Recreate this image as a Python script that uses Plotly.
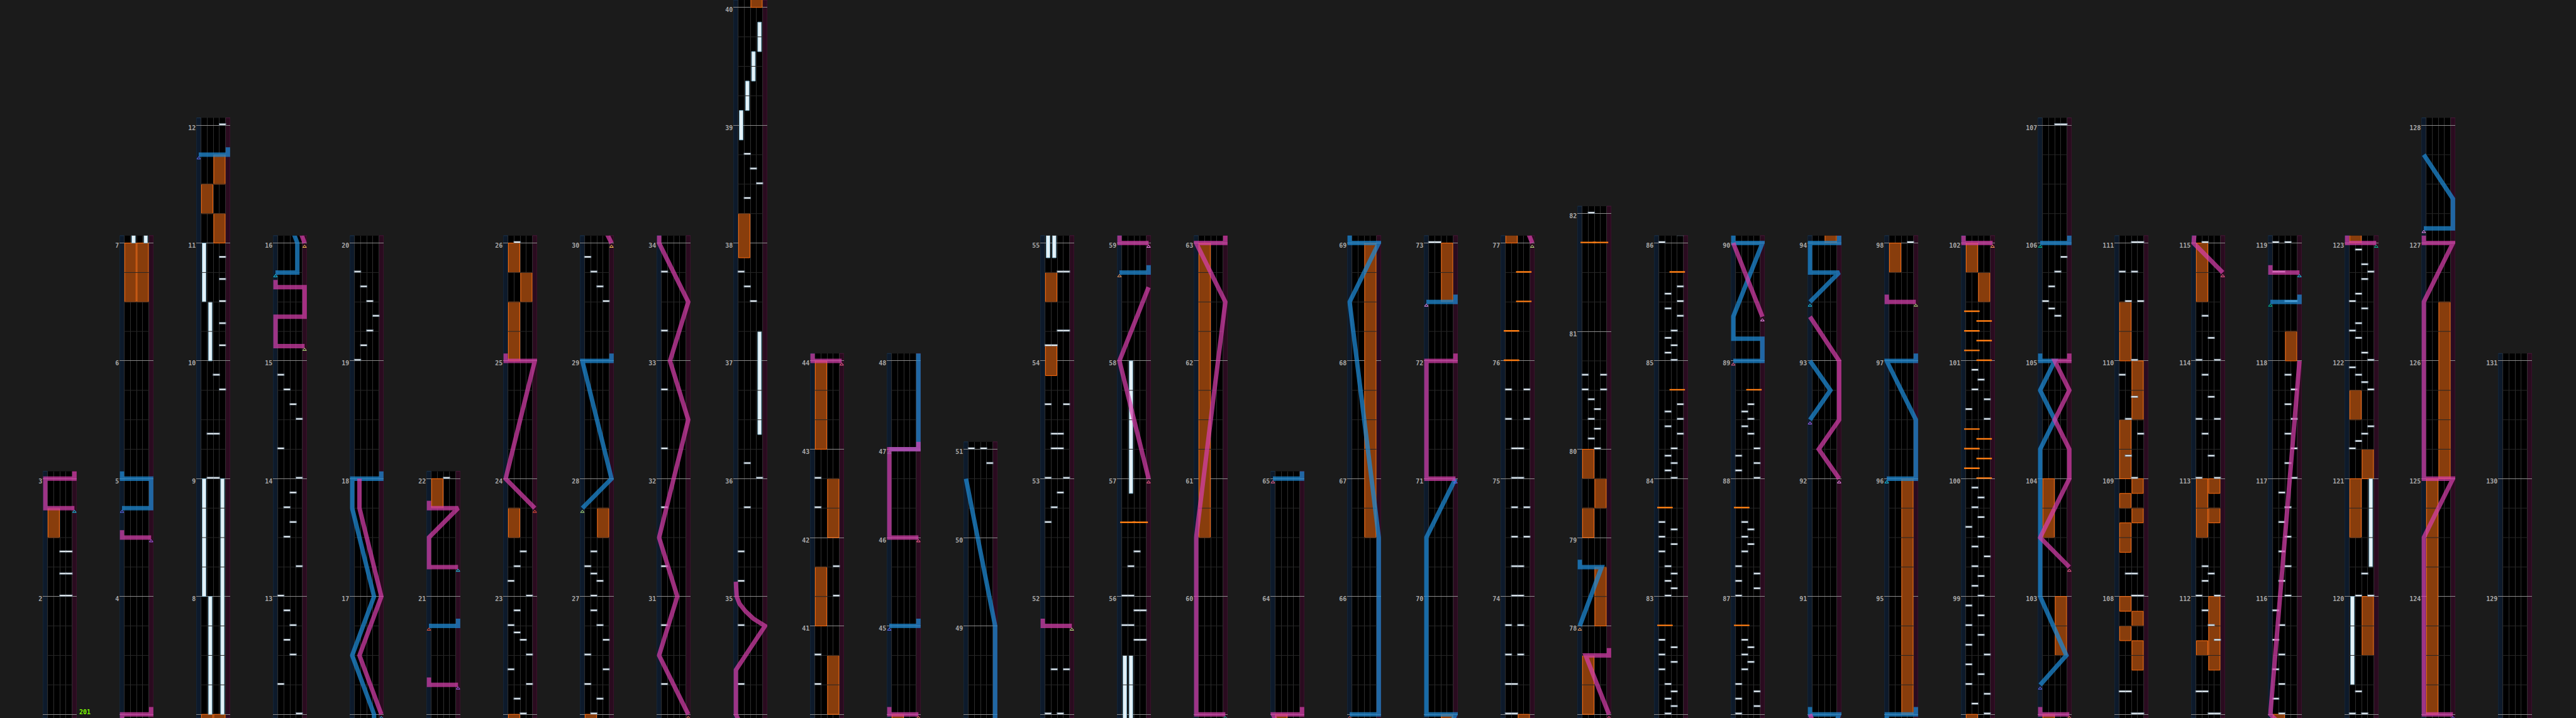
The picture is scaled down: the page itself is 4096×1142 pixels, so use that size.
import math
import plotly.graph_objects as go

# ---------------- chart data ----------------
three_four_measures = list(range(40, 51)) + [77, 78, 79]
last_measure = 131
column_starts = [1, 3, 7, 12, 16, 20, 22, 26, 30, 34, 40, 44, 48, 51, 55, 59, 63, 65, 69,
                 73, 77, 82, 86, 90, 94, 98, 102, 107, 111, 115, 119, 123, 128]
column_last_end = 131
bpm_text = "201"
bpm_measure = 1

# BT chips: (position in measures, lanes)
bt_chips = [
    (2.0, "CD"), (2.1875, "CD"), (2.375, "CD"),
    (9.0, "BC"), (9.375, "BC"), (9.75, "D"), (9.875, "C"),
    (10.125, "D"), (10.3125, "D"), (10.5, "D"), (10.6875, "D"), (10.875, "D"), (12.0, "D"),
    (12.25, "A"), (12.5, "C"), (12.625, "B"), (12.75, "C"), (12.875, "B"),
    (13.0, "A"), (13.25, "D"), (13.5, "B"), (13.625, "C"), (13.75, "B"), (13.875, "C"),
    (14.0, "D"), (14.25, "A"), (14.5, "D"), (14.625, "C"), (14.75, "B"), (14.875, "A"),
    (19.0, "A"), (19.125, "B"), (19.25, "C"), (19.375, "D"), (19.5, "C"), (19.625, "B"), (19.75, "A"),
    (22.0, "C"),
    (22.125, "B"), (22.25, "D"), (22.375, "A"), (22.5, "D"), (22.625, "C"), (22.6875, "B"),
    (22.75, "A"), (22.875, "B"), (23.0, "D"), (23.125, "A"), (23.25, "B"), (23.375, "C"),
    (26.0, "B"),
    (26.125, "C"), (26.25, "A"), (26.375, "D"), (26.5, "A"), (26.625, "D"), (26.75, "C"), (26.875, "B"),
    (27.0, "B"), (27.125, "C"), (27.1875, "B"), (27.25, "A"), (27.375, "B"),
    (29.5, "D"), (29.625, "C"), (29.75, "B"), (29.875, "A"),
    (30.25, "A"), (30.75, "A"), (31.25, "A"), (31.75, "A"), (32.25, "A"), (32.75, "A"), (33.25, "A"), (33.75, "A"),
    (34.25, "A"), (34.75, "A"), (35.125, "A"), (35.375, "A"), (35.75, "B"), (36.0, "D"), (36.125, "B"),
    (37.5, "C"), (37.625, "B"), (37.75, "A"),
    (38.375, "B"), (38.5, "D"), (38.625, "C"), (38.75, "B"),
    (40.3333, "A"), (40.6667, "A"), (41.3333, "D"), (41.6667, "D"), (42.3333, "A"), (42.6667, "A"),
    (50.8333, "D"), (51.0, "AC"),
    (51.375, "BD"), (52.625, "A"), (52.75, "B"), (52.875, "C"), (53.0, "AD"), (53.25, "BC"),
    (53.375, "BC"), (53.625, "AD"), (54.125, "AB"), (54.25, "CD"), (54.75, "CD"),
    (55.625, "CD"), (55.75, "AB"), (55.875, "CD"), (56.0, "AB"), (56.25, "B"), (56.375, "C"),
    (73.0, "AB"),
    (73.25, "AB"), (73.5, "AC"), (73.75, "AC"), (74.0, "BC"), (74.25, "BC"), (74.5, "BD"), (74.75, "BD"),
    (75.0, "BC"), (75.25, "BC"), (75.5, "AD"), (75.75, "AD"),
    (80.0, "C"), (80.0833, "B"), (80.1667, "C"), (80.25, "B"), (80.3333, "C"), (80.4167, "B"),
    (80.5, "AD"), (80.625, "AD"), (82.0, "B"),
    (82.0625, "C"), (82.125, "B"), (82.1875, "C"), (82.25, "B"), (82.375, "A"), (82.4375, "C"),
    (82.5, "A"), (82.5625, "C"), (82.625, "A"),
    (83.0, "B"), (83.0625, "C"), (83.125, "B"), (83.1875, "C"), (83.25, "B"), (83.375, "A"),
    (83.4375, "C"), (83.5, "A"), (83.5625, "C"), (83.625, "A"),
    (84.0, "C"), (84.0625, "B"), (84.125, "C"), (84.1875, "B"), (84.25, "C"), (84.375, "D"),
    (84.4375, "B"), (84.5, "D"), (84.5625, "B"), (84.625, "D"),
    (85.0, "C"), (85.0625, "B"), (85.125, "C"), (85.1875, "B"), (85.25, "C"), (85.375, "D"),
    (85.4375, "B"), (85.5, "D"), (85.5625, "B"), (85.625, "D"),
    (86.0, "A"), (86.0625, "D"), (86.125, "A"), (86.1875, "D"), (86.25, "A"), (86.375, "B"),
    (86.4375, "C"), (86.5, "B"), (86.5625, "C"), (86.625, "B"),
    (87.0, "A"), (87.0625, "D"), (87.125, "A"), (87.1875, "D"), (87.25, "A"), (87.375, "B"),
    (87.4375, "C"), (87.5, "B"), (87.5625, "C"), (87.625, "B"),
    (88.0, "D"), (88.0625, "A"), (88.125, "D"), (88.1875, "A"), (88.25, "D"), (88.375, "C"),
    (88.4375, "B"), (88.5, "C"), (88.5625, "B"), (88.625, "C"),
    (98.0, "D"), (98.0833, "B"), (98.1667, "D"), (98.25, "A"), (98.3333, "C"), (98.4167, "A"),
    (98.5, "D"), (98.5833, "A"), (98.6667, "C"), (98.75, "A"), (98.8333, "C"), (98.9167, "A"),
    (99.0, "C"), (99.0833, "B"), (99.1667, "C"), (99.25, "B"), (99.3333, "D"), (99.4167, "B"),
    (99.5, "C"), (99.5833, "A"), (99.6667, "C"), (99.75, "B"), (99.8333, "C"), (99.9167, "B"),
    (100.5, "D"), (100.5833, "A"), (100.6667, "D"), (100.75, "B"), (100.8333, "C"), (100.9167, "B"),
    (105.375, "C"), (105.4375, "B"), (105.5, "A"), (105.625, "B"), (105.75, "C"), (105.875, "D"),
    (107.0, "CD"), (107.1875, "AB"), (108.0, "CD"), (108.1875, "BC"),
    (109.0, "C"), (109.1875, "B"), (109.375, "D"), (109.5, "B"), (109.6875, "C"), (109.875, "A"),
    (110.0, "C"), (110.5, "BD"), (110.75, "AC"), (111.0, "CD"),
    (111.1875, "AB"), (111.625, "D"), (111.75, "C"), (111.875, "B"), (112.0, "AD"),
    (112.125, "B"), (112.1875, "C"), (112.25, "B"), (113.0, "AD"),
    (113.1875, "C"), (113.375, "B"), (113.5, "AD"), (113.6875, "C"), (113.875, "B"), (114.0, "AD"),
    (114.1875, "C"), (114.375, "B"), (115.0, "B"),
    (115.125, "A"), (115.25, "B"), (115.375, "A"), (115.5, "B"), (115.625, "A"), (115.75, "B"),
    (115.875, "A"), (116.0, "C"), (116.125, "B"), (116.25, "C"), (116.375, "B"), (116.5, "C"),
    (116.625, "B"), (116.75, "C"), (116.875, "B"), (117.0, "D"), (117.125, "C"), (117.25, "D"),
    (117.375, "C"), (117.5, "D"), (117.625, "C"), (117.75, "D"), (117.875, "C"),
    (118.5, "CD"), (118.75, "AB"), (119.0, "AC"),
    (119.1875, "B"), (120.0, "BD"), (120.1875, "C"),
    (121.25, "A"), (121.3125, "B"), (121.375, "C"), (121.4375, "D"),
    (121.75, "D"), (121.8125, "C"), (121.875, "B"), (121.9375, "A"),
    (122.0, "D"), (122.0625, "C"), (122.1875, "B"), (122.25, "A"), (122.3125, "B"), (122.4375, "C"),
    (122.5, "A"), (122.5625, "B"), (122.6875, "C"), (122.75, "D"), (122.8125, "C"), (122.9375, "B"),
]

# FX chips: (position, FX sides)
fx_chips = [
    (56.625, "LR"), (76.0, "L"), (76.25, "L"), (76.5, "R"), (76.75, "R"), (81.75, "LR"),
    (82.75, "L"), (83.75, "L"), (84.75, "R"), (85.75, "R"), (86.75, "L"), (87.75, "L"), (88.75, "R"),
    (100.0, "R"), (100.0833, "L"), (100.1667, "R"), (100.25, "L"), (100.3333, "R"), (100.4167, "L"),
    (101.0, "R"), (101.0833, "L"), (101.1667, "R"), (101.25, "L"), (101.3333, "R"), (101.4167, "L"),
]

# BT holds: (start, end, lane)
bt_holds = [
    (7.0, 8.0, "B"), (7.0, 9.0, "D"), (8.0, 9.0, "A"), (10.0, 10.5, "B"), (10.5, 11.0, "A"),
    (36.375, 37.25, "D"), (38.875, 39.125, "A"), (39.125, 39.375, "B"), (39.375, 39.625, "C"),
    (39.625, 39.875, "D"), (54.875, 55.5, "A"), (54.875, 55.5, "B"), (56.875, 58.0, "B"),
    (119.25, 120.0, "A"), (120.25, 121.0, "D"),
]

# FX holds: (start, end, side)
fx_holds = [
    (2.5, 2.75, "L"), (6.5, 7.0, "L"), (6.5, 7.0, "R"), (11.0, 11.25, "R"), (11.25, 11.5, "L"),
    (11.5, 11.75, "R"), (21.75, 22.0, "L"), (23.5, 23.75, "L"), (25.0, 25.5, "L"), (25.5, 25.75, "R"),
    (25.75, 26.0, "L"), (27.5, 27.75, "R"), (37.875, 38.25, "L"), (40.0, 40.6667, "R"),
    (41.0, 41.6667, "L"), (42.0, 42.6667, "R"), (43.0, 44.0, "L"), (53.875, 54.125, "L"),
    (54.5, 54.75, "L"), (60.5, 63.0, "L"), (66.5, 69.0, "R"), (72.5, 73.0, "R"),
    (77.0, 77.6667, "L"), (78.0, 78.6667, "R"), (79.0, 79.3333, "L"), (79.3333, 79.6667, "R"),
    (79.6667, 80.0, "L"), (94.0, 96.0, "R"), (97.75, 98.0, "L"), (101.5, 101.75, "R"),
    (101.75, 102.0, "L"), (102.5, 103.0, "R"), (103.5, 104.0, "L"),
    (107.375, 107.625, "R"), (107.625, 107.75, "L"), (107.75, 107.875, "R"), (107.875, 108.0, "L"),
    (108.375, 108.625, "L"), (108.625, 108.75, "R"), (108.75, 108.875, "L"), (108.875, 109.0, "R"),
    (109.0, 109.5, "L"), (109.5, 110.0, "R"), (110.0, 110.5, "L"),
    (111.375, 112.0, "R"), (111.5, 111.625, "L"), (112.5, 113.0, "L"), (112.625, 112.75, "R"),
    (112.875, 113.0, "R"), (114.5, 115.0, "L"), (118.0, 118.25, "R"), (119.5, 120.0, "R"),
    (120.5, 121.0, "L"), (121.0, 121.25, "R"), (121.5, 121.75, "L"), (123.0, 125.0, "L"),
    (125.0, 126.5, "R"),
]

# Lasers: lists of (position, lateral 0..1)
laser_left = [
    [(4.75, 0), (4.75, 1), (5.0, 1), (5.0, 0), (5.0625, 0)],
    [(11.75, 0), (11.75, 1), (11.8125, 1)],
    [(15.75, 0), (15.75, 0.75), (16.0, 0.75), (16.5, 0), (17.0, 0.75), (17.75, 0), (18.0, 0), (18.0, 1), (18.0625, 1)],
    [(20.75, 0), (20.75, 1), (20.8125, 1)],
    [(27.75, 0), (28.0, 1), (29.0, 0), (29.0, 1), (29.0625, 1)],
    [(45.0, 0), (45.0, 1), (45.0833, 1)],
    [(47.0, 0), (47.0, 1), (49.0, 1), (50.6667, 0)],
    [(58.75, 0), (58.75, 1), (58.8125, 1)],
    [(65.0, 0), (65.0, 1), (66.5, 1), (68.5, 0), (69.0, 1), (69.0, 0), (70.5, 0), (71.0, 1)],
    [(72.5, 0), (72.5, 1), (72.5625, 1)],
    [(78.0, 0), (78.6667, 0.75), (78.6667, 0), (78.75, 0)],
    [(89.0, 0), (89.0, 1), (89.1875, 1), (89.1875, 0), (89.375, 0), (90.0, 1), (90.0, 0), (90.0625, 0)],
    [(92.5, 0), (92.75, 0.7), (93.0, 0)],
    [(93.5, 0), (93.75, 1), (93.75, 0), (94.0, 0), (94.0, 1), (94.0625, 1)],
    [(96.0, 0), (96.0, 1), (96.5, 1), (97.0, 0), (97.0, 1), (97.0625, 1)],
    [(102.25, 0), (102.5, 0.9), (103.0, 0), (104.25, 0), (104.5, 0.5), (104.75, 0), (105.0, 0.5), (105.0, 0), (105.0625, 0)],
    [(106.0, 0), (106.0, 1), (106.0625, 1)],
    [(118.5, 0), (118.5, 1), (118.5625, 1)],
    [(127.125, 0), (127.125, 1), (127.375, 1), (127.75, 0)],
]
laser_right = [
    [(2.75, 1), (2.75, 0), (3.0, 0), (3.0, 1), (3.0625, 1)],
    [(4.5, 1), (4.5, 0), (4.5625, 0)],
    [(15.125, 1), (15.125, 0), (15.375, 0), (15.375, 1), (15.625, 1), (15.625, 0), (15.6875, 0)],
    [(16.0, 1), (16.5, 0.25), (17.0, 1), (17.75, 0.25), (18.0, 0.25)],
    [(20.25, 1), (20.25, 0), (20.3125, 0)],
    [(21.25, 1), (21.25, 0), (21.5, 0), (21.75, 1), (21.75, 0), (21.8125, 0)],
    [(23.75, 1), (24.0, 0), (25.0, 1), (25.0, 0), (25.0625, 0)],
    [(30.0, 1), (30.5, 0), (31.0, 0.625), (31.5, 0), (32.5, 1), (33.0, 0.375), (33.5, 1), (34.0, 0),
     (34.375, 0), (34.75, 1), (34.8125, 0.6), (34.875, 0.33), (34.9375, 0.13), (35.0, 0.03), (35.125, 0)],
    [(44.0, 1), (44.0, 0), (44.0833, 0)],
    [(46.0, 1), (46.0, 0), (47.0, 0), (47.0, 1), (47.0833, 1)],
    [(51.75, 1), (51.75, 0), (51.8125, 0)],
    [(57.0, 1), (58.0, 0), (58.625, 1)],
    [(59.0, 1), (59.0, 0), (60.5, 0), (62.5, 1), (63.0, 0), (63.0, 1), (63.0625, 1)],
    [(71.0, 1), (71.0, 0), (72.0, 0), (72.0, 1), (72.0625, 1)],
    [(77.0, 1), (77.6667, 0.2), (77.6667, 1), (77.75, 1)],
    [(89.375, 1), (90.0, 0)],
    [(92.0, 1), (92.25, 0.3), (92.5, 1), (93.0, 1), (93.375, 0)],
    [(97.5, 1), (97.5, 0), (97.5625, 0)],
    [(102.0, 1), (102.0, 0), (102.0625, 0)],
    [(103.25, 1), (103.5, 0), (104.0, 1), (104.25, 1), (104.5, 0.5), (104.75, 1), (105.0, 0.5), (105.0, 1), (105.0625, 1)],
    [(114.75, 1), (115.0, 0), (118.0, 1)],
    [(118.75, 1), (118.75, 0), (118.8125, 0)],
    [(123.0, 1), (123.0, 0), (124.5, 0), (125.0, 1), (125.0, 0), (126.5, 0), (127.0, 1), (127.0, 0), (127.0625, 0)],
]

# ---------------- geometry & style ----------------
FIG_W, FIG_H = 4096, 1142
S = 0.976
PX_PER_BEAT = 192 * S / 4
COL_LEFT0, COL_STEP, COL_W = 70 * S, 125 * S, 55 * S
PAD_B = 6 * S / PX_PER_BEAT
PAD_T = 12 * S / PX_PER_BEAT
LANE = {"A": 0, "B": 1, "C": 2, "D": 3}
FXC = {"L": 1.0, "R": 3.0}
LASER_W = 7.2 * S

BG = "#1b1b1b"
BLUE = "rgba(30,136,210,0.74)"
PINK = "rgba(214,62,170,0.72)"
BLUE_MARK = "rgba(90,170,230,0.9)"
PINK_MARK = "rgba(230,110,190,0.9)"

beats_in = {m: (3 if m in three_four_measures else 4) for m in range(1, last_measure + 1)}
start_beat = {}
acc = 0
for m in range(1, last_measure + 1):
    start_beat[m] = acc
    acc += beats_in[m]


def beat(pos):
    m = int(math.floor(pos + 1e-6))
    m = min(m, last_measure)
    return start_beat[m] + (pos - m) * beats_in[m]


def lx(v):
    return -0.375 + 4.75 * v


column_ends = column_starts[1:] + [column_last_end]

fig = go.Figure()
axes = {}
shapes = []
annotations = []

for i, (ms, me) in enumerate(zip(column_starts, column_ends)):
    n = i + 1
    xn = "x" if n == 1 else f"x{n}"
    yn = "y" if n == 1 else f"y{n}"
    b0, b1 = start_beat[ms], start_beat[me]
    lo, hi = b0 - PAD_B, b1 + PAD_T
    left = COL_LEFT0 + i * COL_STEP
    axes["xaxis" if n == 1 else f"xaxis{n}"] = dict(
        domain=[left / FIG_W, (left + COL_W) / FIG_W], range=[-0.75, 4.75], anchor=yn,
        tickvals=[0, 1, 2, 3, 4], showticklabels=False, showgrid=True, gridcolor="#2e2e2e",
        gridwidth=1, zeroline=False, showline=False, ticks="", fixedrange=True)
    mlist = list(range(ms, me + 1))
    axes["yaxis" if n == 1 else f"yaxis{n}"] = dict(
        domain=[0, min(1.0, (hi - lo) * PX_PER_BEAT / FIG_H)], range=[lo, hi], anchor=xn,
        tickvals=[start_beat[m] for m in mlist], ticktext=[str(m) for m in mlist],
        showgrid=True, gridcolor="#8c8c8c", gridwidth=1, zeroline=False, showline=False,
        ticks="", ticklabelshift=4, ticklabelstandoff=0,
        tickfont=dict(family="DejaVu Sans Mono", size=10, color="#a8a8a8", weight="bold"),
        fixedrange=True)

    # side strips
    shapes.append(dict(type="rect", xref=xn, yref=f"{yn} domain", x0=-0.75, x1=0, y0=0, y1=1,
                       fillcolor="#0d1a2b", line=dict(color="#1b3550", width=1), layer="below"))
    shapes.append(dict(type="rect", xref=xn, yref=f"{yn} domain", x0=4, x1=4.75, y0=0, y1=1,
                       fillcolor="#2a0b1f", line=dict(color="#4a1739", width=1), layer="below"))

    # beat lines
    bx, by = [], []
    for b in range(b0 + 1, b1):
        if b in start_beat.values():
            continue
        bx += [0, 4, None]
        by += [b, b, None]
    if bx:
        fig.add_trace(go.Scatter(x=bx, y=by, mode="lines", line=dict(color="#272727", width=1),
                                 xaxis=xn, yaxis=yn, hoverinfo="skip", showlegend=False))

    # FX holds
    hx, hy, hb = [], [], []
    for s, e, side in fx_holds:
        bs, be = beat(s), beat(e)
        if be >= lo and bs <= hi:
            hx.append(FXC[side]); hb.append(bs); hy.append(be - bs)
    if hx:
        fig.add_trace(go.Bar(x=hx, y=hy, base=hb, width=1.84,
                             marker=dict(color="#883d0c", line=dict(color="#ff6d10", width=1)),
                             xaxis=xn, yaxis=yn, hoverinfo="skip", showlegend=False))

    # BT holds
    hx, hy, hb = [], [], []
    for s, e, ln in bt_holds:
        bs, be = beat(s), beat(e)
        if be >= lo and bs <= hi:
            hx.append(LANE[ln] + 0.5); hb.append(bs); hy.append(be - bs)
    if hx:
        fig.add_trace(go.Bar(x=hx, y=hy, base=hb, width=0.6,
                             marker=dict(color="#e4f1f7", line=dict(color="#7fb3cc", width=1)),
                             xaxis=xn, yaxis=yn, hoverinfo="skip", showlegend=False))

    # FX chips
    cx, cy = [], []
    for p, sides in fx_chips:
        bp = beat(p)
        if lo - 0.2 <= bp <= hi + 0.2:
            for sd in sides:
                cx.append(FXC[sd]); cy.append(bp + 0.02)
    if cx:
        fig.add_trace(go.Scatter(x=cx, y=cy, mode="markers",
                                 marker=dict(symbol="line-ew", size=18 * S, line=dict(color="#ff7d12", width=2.4)),
                                 xaxis=xn, yaxis=yn, hoverinfo="skip", showlegend=False))

    # BT chips
    cx, cy = [], []
    for p, lanes in bt_chips:
        bp = beat(p)
        if lo - 0.2 <= bp <= hi + 0.2:
            for ln in lanes:
                cx.append(LANE[ln] + 0.5); cy.append(bp + 0.03)
    if cx:
        fig.add_trace(go.Scatter(x=cx, y=cy, mode="markers",
                                 marker=dict(symbol="line-ew", size=8.5 * S, line=dict(color="#6c7c8a", width=3.4)),
                                 xaxis=xn, yaxis=yn, hoverinfo="skip", showlegend=False))
        fig.add_trace(go.Scatter(x=cx, y=cy, mode="markers",
                                 marker=dict(symbol="line-ew", size=7 * S, line=dict(color="#f2f8fb", width=1.6)),
                                 xaxis=xn, yaxis=yn, hoverinfo="skip", showlegend=False))

    # lasers
    for lasers, col, mcol in ((laser_left, BLUE, BLUE_MARK), (laser_right, PINK, PINK_MARK)):
        for pts in lasers:
            ys = [beat(p) for p, _ in pts]
            xs = [lx(v) for _, v in pts]
            if max(ys) >= lo - 0.05 and min(ys) <= hi + 0.05:
                fig.add_trace(go.Scatter(x=xs, y=ys, mode="lines",
                                         line=dict(color=col, width=LASER_W),
                                         xaxis=xn, yaxis=yn, hoverinfo="skip", showlegend=False))
            if lo <= ys[0] <= hi:
                fig.add_trace(go.Scatter(x=[xs[0]], y=[ys[0] - 0.12], mode="markers",
                                         marker=dict(symbol="triangle-up-open", size=5,
                                                     line=dict(color=mcol, width=1)),
                                         xaxis=xn, yaxis=yn, hoverinfo="skip", showlegend=False,
                                         cliponaxis=False))

# BPM label
annotations.append(dict(text=bpm_text, xref="x", yref="y", x=4.75, y=start_beat[bpm_measure],
                        xanchor="left", yanchor="middle", xshift=2, yshift=4, showarrow=False,
                        font=dict(family="DejaVu Sans Mono", size=10, color="#7cfc00", weight="bold")))

fig.update_layout(width=FIG_W, height=FIG_H, margin=dict(l=0, r=0, t=0, b=0),
                  paper_bgcolor=BG, plot_bgcolor="#000000", barmode="overlay",
                  showlegend=False, shapes=shapes, annotations=annotations, **axes)

fig.write_html("out.html", config={"displayModeBar": False, "staticPlot": True},
               post_script="document.body.style.margin='0';document.body.style.overflow='hidden';"
                           "document.body.style.background='" + BG + "';")
